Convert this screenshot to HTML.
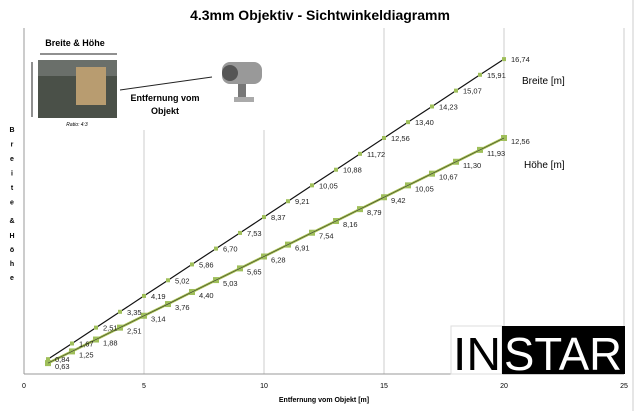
<!DOCTYPE html>
<html><head><meta charset="utf-8"><style>
body{margin:0;background:#fff;font-family:"Liberation Sans",sans-serif}
svg text{font-family:"Liberation Sans",sans-serif}
</style></head><body>
<svg id="c" width="639" height="411" xmlns="http://www.w3.org/2000/svg">
<text x="320" y="20" text-anchor="middle" font-size="14" font-weight="bold">4.3mm Objektiv - Sichtwinkeldiagramm</text>
<line x1="633" y1="0" x2="633" y2="411" stroke="#ccc"/>
<g id="grid"></g>
<g id="axes"></g>
<g>
<rect x="25" y="28" width="248" height="102" fill="#fff"/>
<text x="75" y="46" text-anchor="middle" font-size="9" font-weight="bold">Breite &amp; Höhe</text>
<line x1="40" y1="54" x2="117" y2="54" stroke="#222"/>
<line x1="32" y1="62" x2="32" y2="117" stroke="#222"/>
<rect x="38" y="60" width="79" height="58" fill="#4a5048"/>
<rect x="38" y="60" width="79" height="16" fill="#6a6f6a"/>
<rect x="76" y="67" width="30" height="38" fill="#b89c70"/>
<text x="77" y="126" text-anchor="middle" font-size="5" font-style="italic">Ratio: 4:3</text>
<line x1="120" y1="90" x2="212" y2="77" stroke="#222"/>
<text x="165" y="101" text-anchor="middle" font-size="9" font-weight="bold">Entfernung vom</text>
<text x="165" y="114" text-anchor="middle" font-size="9" font-weight="bold">Objekt</text>
<rect x="222" y="62" width="40" height="22" rx="8" fill="#999"/>
<circle cx="230" cy="73" r="8" fill="#555"/>
<rect x="238" y="84" width="8" height="14" fill="#777"/>
<rect x="234" y="97" width="20" height="5" fill="#aaa"/>
</g>
<g id="series"></g>
<text x="522" y="84" font-size="10">Breite [m]</text>
<text x="524" y="168" font-size="10">Höhe [m]</text>
<g>
<rect x="451" y="326" width="51" height="48" fill="#fff" stroke="#ddd"/>
<rect x="502" y="326" width="123" height="48" fill="#000"/>
<text x="453" y="370" font-size="46" fill="#000" textLength="48" lengthAdjust="spacingAndGlyphs">IN</text>
<text x="504" y="370" font-size="46" fill="#fff" textLength="118" lengthAdjust="spacingAndGlyphs">STAR</text>
</g>
<text x="324" y="402" text-anchor="middle" font-size="7" font-weight="bold">Entfernung vom Objekt [m]</text>
<text id="ytitle" font-size="7" font-weight="bold"></text>
</svg>
<script>
const distances=[1,2,3,4,5,6,7,8,9,10,11,12,13,14,15,16,17,18,19,20];
const breite=[0.84,1.67,2.51,3.35,4.19,5.02,5.86,6.70,7.53,8.37,9.21,10.05,10.88,11.72,12.56,13.40,14.23,15.07,15.91,16.74];
const hoehe=[0.63,1.25,1.88,2.51,3.14,3.76,4.40,5.03,5.65,6.28,6.91,7.54,8.16,8.79,9.42,10.05,10.67,11.30,11.93,12.56];
const xTicks=[0,5,10,15,20,25];
const NS='http://www.w3.org/2000/svg';
const X=v=>24+v*24, Y=v=>375-v*18.87;
function mk(t,a,p){const e=document.createElementNS(NS,t);for(const k in a)e.setAttribute(k,a[k]);p.appendChild(e);return e;}
const grid=document.getElementById('grid'),axes=document.getElementById('axes'),ser=document.getElementById('series');
xTicks.forEach(t=>{
 const l=mk('line',{x1:X(t),x2:X(t),y1:28,y2:374,stroke:t===0?'#999':'#ccc'},grid);
 
 
 const tx=mk('text',{x:X(t),y:388,'text-anchor':'middle','font-size':7},axes);
 tx.textContent=t;
 
 
});
const ax=mk('line',{x1:24,x2:624,y1:374,y2:374,stroke:'#999'},axes);


const letters='Breite&Höhe'.split('');
const yt=document.getElementById('ytitle');
letters.forEach((c,i)=>{const ts=mk('tspan',{x:12,y:132+i*(i>=7?14:14.5)+(i>=6?4:0)+(i>=7?4:0),'text-anchor':'middle'},yt);ts.textContent=c;});
function series(vals,name,color,lw,ms,lab){
 const pts=distances.map((d,i)=>X(d)+','+Y(vals[i])).join(' ');
 const pl=mk('polyline',{points:pts,fill:'none',stroke:color,'stroke-width':lw},ser);
 
 
 distances.forEach((d,i)=>{
  const r=mk('rect',{x:X(d)-ms/2,y:Y(vals[i])-ms/2,width:ms,height:ms,fill:'#9fbf5a'},ser);
  
  
  const t=mk('text',{x:X(d)+7,y:Y(vals[i])+lab,'font-size':7.5,fill:'#222'},ser);
  t.textContent=vals[i].toFixed(2).replace('.',',');
  
  
 });
}
series(hoehe,'hoehe','#a8c450',2.5,6,6);
mk('polyline',{points:distances.map((d,i)=>X(d)+','+Y(hoehe[i])).join(' '),fill:'none',stroke:'#333','stroke-width':0.6},ser);
series(breite,'breite','#111',1.2,4,3);
</script>
</body></html>
